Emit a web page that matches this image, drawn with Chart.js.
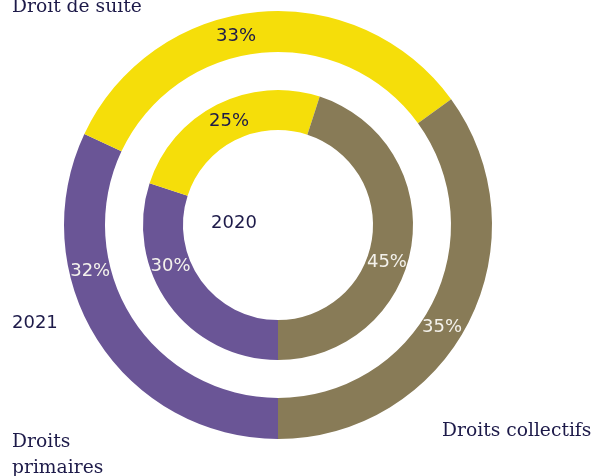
<!DOCTYPE html>
<html lang="fr">
<head>
<meta charset="utf-8">
<title>Répartition des droits 2020 / 2021</title>
<script src="https://cdn.jsdelivr.net/npm/chart.js@4.4.1/dist/chart.umd.min.js"></script>
<style>
  html, body { margin: 0; padding: 0; background: #fff; }
  #wrap { width: 595px; height: 476px; }
</style>
</head>
<body>
<div id="wrap"><canvas id="chart" width="595" height="476"></canvas></div>
<script>
// Catégories et parts (en %) par année – ordre horaire à partir du bas.
const categories = ['Droits primaires', 'Droit de suite', 'Droits collectifs'];
const values2021 = [32, 33, 35];
const values2020 = [30, 25, 45];
const colors = ['#6A5596', '#F5DE0A', '#887B57'];

const INK = '#1D1A49';
const LIGHT = '#F4F2EC';

// Étiquettes des pourcentages : position le long de l'arc (fraction 0–1) et couleur.
const pctLabels = {
  0: { frac: [0.66, 0.44, 0.54], color: [LIGHT, INK, LIGHT] },
  2: { frac: [0.64, 0.52, 0.56], color: [LIGHT, INK, LIGHT] },
};

const ringLabels = {
  id: 'ringLabels',
  afterDatasetsDraw(chart) {
    const { ctx } = chart;
    ctx.save();
    ctx.textAlign = 'center';
    ctx.textBaseline = 'middle';
    ctx.font = '18px "DejaVu Sans"';
    Object.keys(pctLabels).forEach((di) => {
      const cfg = pctLabels[di];
      const ds = chart.data.datasets[di];
      chart.getDatasetMeta(+di).data.forEach((arc, i) => {
        const a = arc.startAngle + cfg.frac[i] * (arc.endAngle - arc.startAngle);
        const r = (arc.innerRadius + arc.outerRadius) / 2;
        ctx.fillStyle = cfg.color[i];
        ctx.fillText(ds.data[i] + '%', arc.x + r * Math.cos(a), arc.y + r * Math.sin(a));
      });
    });

    // Année au centre.
    const c = chart.getDatasetMeta(0).data[0];
    ctx.fillStyle = INK;
    ctx.fillText('2020', c.x - 44, c.y - 2);

    // Libellés extérieurs.
    ctx.textAlign = 'left';
    ctx.textBaseline = 'alphabetic';
    ctx.fillText('2021', 12, 328);
    ctx.font = '18.7px "DejaVu Serif"';
    ctx.fillText(categories[1], 12, 12);
    ctx.fillText('Droits', 12, 447);
    ctx.fillText('primaires', 12, 473);
    ctx.fillText(categories[2], 442, 436);
    ctx.restore();
  },
};

new Chart(document.getElementById('chart'), {
  type: 'doughnut',
  data: {
    labels: categories,
    datasets: [
      { label: '2021', data: values2021, backgroundColor: colors, weight: 41 },
      { label: 'espace', data: [1], backgroundColor: 'rgba(0,0,0,0)', weight: 38 },
      { label: '2020', data: values2020, backgroundColor: colors, weight: 40 },
    ],
  },
  options: {
    responsive: false,
    animation: false,
    events: [],
    rotation: 180,
    cutout: '44.4%',
    borderWidth: 0,
    layout: { padding: { left: 64, top: 11, right: 103, bottom: 37 } },
    plugins: { legend: { display: false }, tooltip: { enabled: false } },
  },
  plugins: [ringLabels],
});
</script>
</body>
</html>
